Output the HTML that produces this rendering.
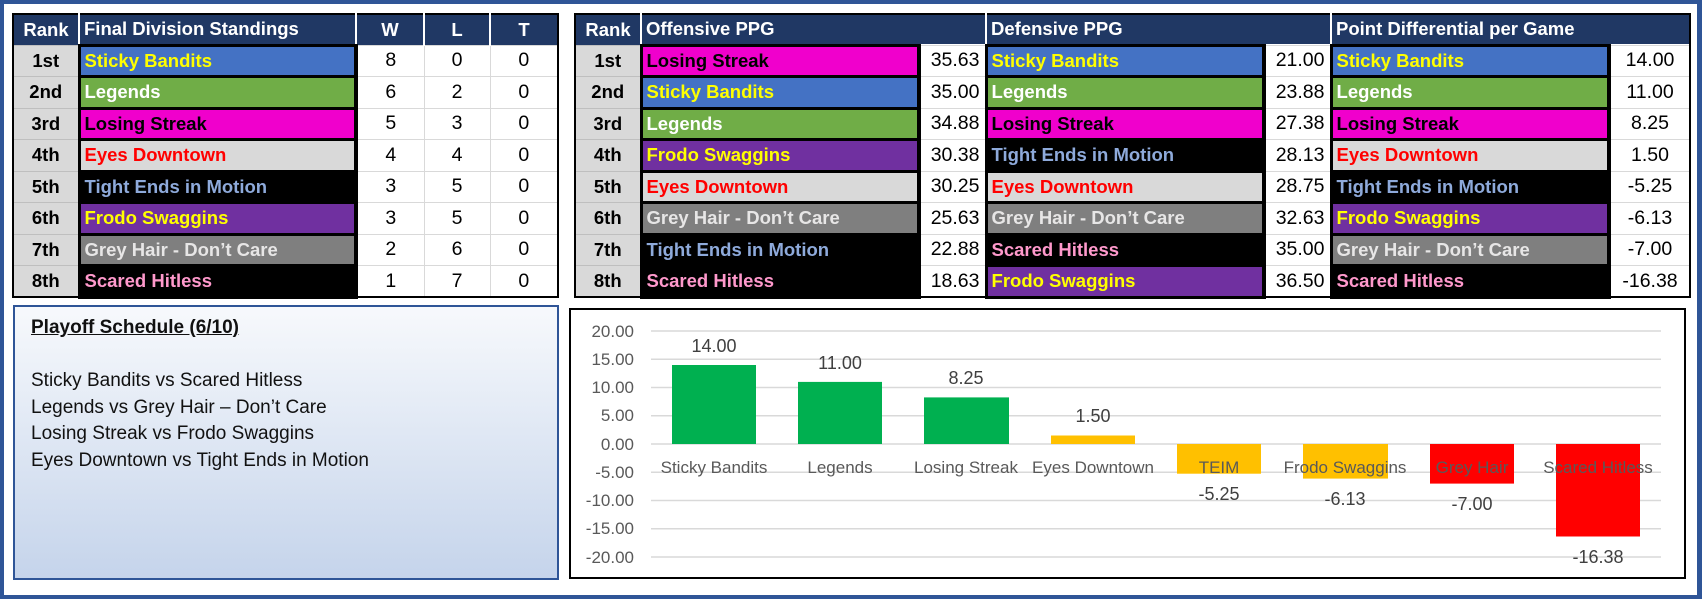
<!DOCTYPE html>
<html><head><meta charset="utf-8"><style>
*{box-sizing:border-box;margin:0;padding:0}
body{width:1702px;height:599px;background:#fff;position:relative;overflow:hidden;font-family:"Liberation Sans",sans-serif}
.frame{position:absolute;left:0;top:0;width:1702px;height:599px;border:4px solid #2f5597;border-right-width:5px}
table{position:absolute;border-collapse:collapse;table-layout:fixed;font-weight:bold;font-size:18.5px;border:2px solid #000}
td,th{padding:0 4px;white-space:nowrap;overflow:hidden}
th{background:#203864;color:#fff;text-align:left;height:31px;border-left:2px solid #fff;font-size:18.5px}
th:first-child{border-left:none;text-align:center}
th.c{text-align:center}
td{height:31.5px}
td.r{background:#d9d9d9;text-align:center;border:1px solid #bfbfbf;color:#000}
td.n{border:2px solid #000;border-width:3px 4px 3px 3px}
td.v{background:#fff;border:1px solid #d9d9d9;text-align:center;font-weight:normal;font-size:19.5px;color:#000}
td.vr{background:#fff;border:1px solid #d9d9d9;text-align:right;font-weight:normal;font-size:19.5px;color:#000;padding-right:5px}
.sb{background:#4472c4;color:#ffff00}
.lg{background:#70ad47;color:#fff}
.ls{background:#f000cc;color:#000}
.ed{background:#d9d9d9;color:#ff0000}
.te{background:#000;color:#8eaadb}
.fs{background:#7030a0;color:#ffff00}
.gh{background:#7f7f7f;color:#e7e6e6}
.sh{background:#000;color:#ff99cc}
.sched{position:absolute;left:13px;top:305px;width:546px;height:275px;border:2px solid #2f5597;background:linear-gradient(#f7f9fc,#c5d4eb);padding:8px 0 0 16px;font-size:19px;color:#111;line-height:26.5px}
.sched u{font-weight:bold}
</style></head><body>
<div class="frame"></div>

<table style="left:12px;top:13px;width:545px">
<colgroup><col style="width:66px"><col style="width:277px"><col style="width:68px"><col style="width:66px"><col style="width:68px"></colgroup>
<tr><th>Rank</th><th>Final Division Standings</th><th class="c">W</th><th class="c">L</th><th class="c">T</th></tr>
<tr><td class="r">1st</td><td class="n sb">Sticky Bandits</td><td class="v">8</td><td class="v">0</td><td class="v">0</td></tr>
<tr><td class="r">2nd</td><td class="n lg">Legends</td><td class="v">6</td><td class="v">2</td><td class="v">0</td></tr>
<tr><td class="r">3rd</td><td class="n ls">Losing Streak</td><td class="v">5</td><td class="v">3</td><td class="v">0</td></tr>
<tr><td class="r">4th</td><td class="n ed">Eyes Downtown</td><td class="v">4</td><td class="v">4</td><td class="v">0</td></tr>
<tr><td class="r">5th</td><td class="n te">Tight Ends in Motion</td><td class="v">3</td><td class="v">5</td><td class="v">0</td></tr>
<tr><td class="r">6th</td><td class="n fs">Frodo Swaggins</td><td class="v">3</td><td class="v">5</td><td class="v">0</td></tr>
<tr><td class="r">7th</td><td class="n gh">Grey Hair - Don’t Care</td><td class="v">2</td><td class="v">6</td><td class="v">0</td></tr>
<tr><td class="r">8th</td><td class="n sh">Scared Hitless</td><td class="v">1</td><td class="v">7</td><td class="v">0</td></tr>
</table>

<table style="left:574px;top:13px;width:1115px">
<colgroup><col style="width:66px"><col style="width:278px"><col style="width:67px"><col style="width:278px"><col style="width:67px"><col style="width:278px"><col style="width:81px"></colgroup>
<tr><th>Rank</th><th colspan="2">Offensive PPG</th><th colspan="2">Defensive PPG</th><th colspan="2">Point Differential per Game</th></tr>
<tr><td class="r">1st</td><td class="n ls">Losing Streak</td><td class="vr">35.63</td><td class="n sb">Sticky Bandits</td><td class="vr">21.00</td><td class="n sb">Sticky Bandits</td><td class="v">14.00</td></tr>
<tr><td class="r">2nd</td><td class="n sb">Sticky Bandits</td><td class="vr">35.00</td><td class="n lg">Legends</td><td class="vr">23.88</td><td class="n lg">Legends</td><td class="v">11.00</td></tr>
<tr><td class="r">3rd</td><td class="n lg">Legends</td><td class="vr">34.88</td><td class="n ls">Losing Streak</td><td class="vr">27.38</td><td class="n ls">Losing Streak</td><td class="v">8.25</td></tr>
<tr><td class="r">4th</td><td class="n fs">Frodo Swaggins</td><td class="vr">30.38</td><td class="n te">Tight Ends in Motion</td><td class="vr">28.13</td><td class="n ed">Eyes Downtown</td><td class="v">1.50</td></tr>
<tr><td class="r">5th</td><td class="n ed">Eyes Downtown</td><td class="vr">30.25</td><td class="n ed">Eyes Downtown</td><td class="vr">28.75</td><td class="n te">Tight Ends in Motion</td><td class="v">-5.25</td></tr>
<tr><td class="r">6th</td><td class="n gh">Grey Hair - Don’t Care</td><td class="vr">25.63</td><td class="n gh">Grey Hair - Don’t Care</td><td class="vr">32.63</td><td class="n fs">Frodo Swaggins</td><td class="v">-6.13</td></tr>
<tr><td class="r">7th</td><td class="n te">Tight Ends in Motion</td><td class="vr">22.88</td><td class="n sh">Scared Hitless</td><td class="vr">35.00</td><td class="n gh">Grey Hair - Don’t Care</td><td class="v">-7.00</td></tr>
<tr><td class="r">8th</td><td class="n sh">Scared Hitless</td><td class="vr">18.63</td><td class="n fs">Frodo Swaggins</td><td class="vr">36.50</td><td class="n sh">Scared Hitless</td><td class="v">-16.38</td></tr>
</table>

<div class="sched"><u>Playoff Schedule (6/10)</u><br><br>Sticky Bandits vs Scared Hitless<br>Legends vs Grey Hair – Don’t Care<br>Losing Streak vs Frodo Swaggins<br>Eyes Downtown vs Tight Ends in Motion</div>

<svg style="position:absolute;left:0;top:0" width="1702" height="599" font-family="Liberation Sans, sans-serif">
<rect x="570" y="309" width="1115" height="269" fill="#fff" stroke="#000" stroke-width="2"/>
<g stroke="#d9d9d9" stroke-width="1.5">
<line x1="651" x2="1661" y1="331" y2="331"/><line x1="651" x2="1661" y1="359.25" y2="359.25"/>
<line x1="651" x2="1661" y1="387.5" y2="387.5"/><line x1="651" x2="1661" y1="415.75" y2="415.75"/>
<line x1="651" x2="1661" y1="444" y2="444"/><line x1="651" x2="1661" y1="472.25" y2="472.25"/>
<line x1="651" x2="1661" y1="500.5" y2="500.5"/><line x1="651" x2="1661" y1="528.75" y2="528.75"/>
<line x1="651" x2="1661" y1="557" y2="557"/>
</g>
<g fill="#595959" font-size="17" text-anchor="end">
<text x="634" y="337">20.00</text><text x="634" y="365">15.00</text><text x="634" y="393">10.00</text>
<text x="634" y="421">5.00</text><text x="634" y="450">0.00</text><text x="634" y="478">-5.00</text>
<text x="634" y="506">-10.00</text><text x="634" y="534">-15.00</text><text x="634" y="563">-20.00</text>
</g>
<rect x="672" y="365" width="84" height="79" fill="#00b050"/>
<rect x="798" y="381.9" width="84" height="62.1" fill="#00b050"/>
<rect x="924" y="397.4" width="85" height="46.6" fill="#00b050"/>
<rect x="1051" y="435.5" width="84" height="8.5" fill="#ffc000"/>
<rect x="1177" y="444" width="84" height="29.7" fill="#ffc000"/>
<rect x="1303" y="444" width="85" height="34.6" fill="#ffc000"/>
<rect x="1430" y="444" width="84" height="39.6" fill="#ff0000"/>
<rect x="1556" y="444" width="84" height="92.5" fill="#ff0000"/>
<g fill="#595959" font-size="17" text-anchor="middle">
<text x="714" y="473">Sticky Bandits</text><text x="840" y="473">Legends</text>
<text x="966" y="473">Losing Streak</text><text x="1093" y="473">Eyes Downtown</text>
<text x="1219" y="473">TEIM</text><text x="1345" y="473">Frodo Swaggins</text>
<text x="1472" y="473">Grey Hair</text><text x="1598" y="473">Scared Hitless</text>
</g>
<g fill="#404040" font-size="18" text-anchor="middle">
<text x="714" y="352">14.00</text><text x="840" y="369">11.00</text><text x="966" y="384">8.25</text>
<text x="1093" y="422">1.50</text><text x="1219" y="500">-5.25</text><text x="1345" y="505">-6.13</text>
<text x="1472" y="510">-7.00</text><text x="1598" y="563">-16.38</text>
</g>
</svg>
</body></html>
